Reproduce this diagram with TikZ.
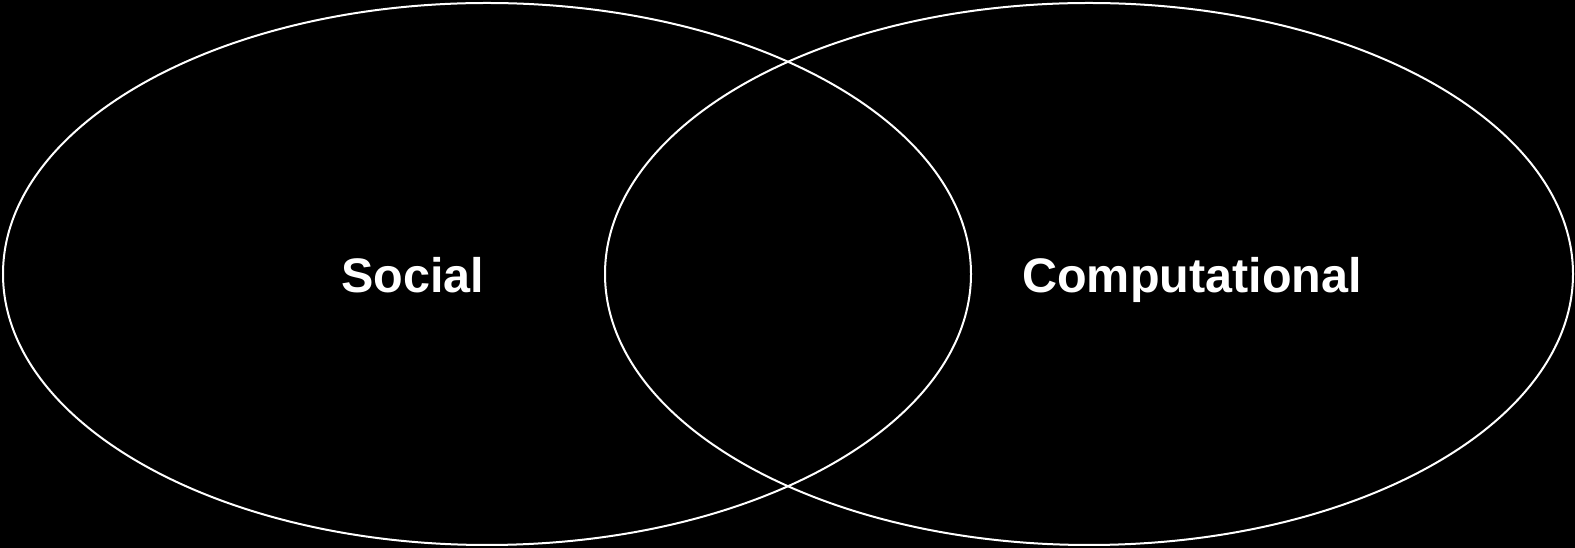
\documentclass[tikz,border=0pt]{standalone}
\usepackage{fontspec}
\setmainfont{Liberation Sans}
\begin{document}
\begin{tikzpicture}[x=1pt,y=1pt,
  venn/.style={draw=white,line width=2pt},
  lbl/.style={text=white,font=\fontsize{48.5}{50}\selectfont\bfseries,inner sep=0pt,anchor=base}]
\fill[black] (0,0) rectangle (1575,548);
\useasboundingbox (0,0) rectangle (1575,548);
\draw[venn] (487,274) ellipse [x radius=484, y radius=271];
\draw[venn] (1089,274) ellipse [x radius=484, y radius=271];
\node[lbl] (social) at (413,255.5) {Social};
\node[lbl] (comp) at (1192,255.5) {Computational};
\end{tikzpicture}
\end{document}
